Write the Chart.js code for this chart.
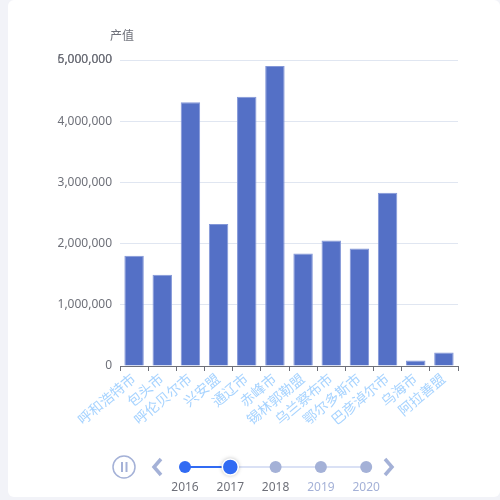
<!DOCTYPE html>
<html>
<head>
<meta charset="utf-8">
<script src="https://cdn.jsdelivr.net/npm/chart.js@4/dist/chart.umd.min.js"></script>
<style>
  html, body { margin: 0; padding: 0; background: #f2f3f8; }
  #card { position: absolute; left: 8px; top: 0; width: 492px; height: 497px; background: #fff; border-radius: 6px; }
  #wrap { position: absolute; left: 0; top: 0; width: 500px; height: 500px; }
</style>
</head>
<body>
<div id="card"></div>
<div id="wrap"><canvas id="chart" width="500" height="500"></canvas></div>
<script>
// cities of Inner Mongolia, output value for the selected year (2017)
const cities = ['呼和浩特市', '包头市', '呼伦贝尔市', '兴安盟', '通辽市', '赤峰市', '锡林郭勒盟', '乌兰察布市', '鄂尔多斯市', '巴彦淖尔市', '乌海市', '阿拉善盟'];
const output = [1800000, 1490000, 4310000, 2320000, 4400000, 4900000, 1840000, 2050000, 1920000, 2830000, 90000, 220000];
const years = ['2016', '2017', '2018', '2019', '2020'];
const currentYear = 1;
// the top line carries two overlapping labels in the original (5,000,000 and 6,000,000)
const yTickValues = [0, 1000000, 2000000, 3000000, 4000000, 5000000, 5000000];
const yTickLabels = ['0', '1,000,000', '2,000,000', '3,000,000', '4,000,000', '5,000,000', '6,000,000'];

const FONT = '"Noto Sans", "Noto Sans CJK SC", sans-serif';
Chart.defaults.font.family = FONT;

// y axis name + timeline control under the chart
const extras = {
  id: 'extras',
  afterDraw(chart) {
    const ctx = chart.ctx;
    const area = chart.chartArea;
    ctx.save();
    ctx.fillStyle = '#6e7079';
    ctx.font = '12px ' + FONT;
    ctx.textAlign = 'center';
    ctx.textBaseline = 'middle';
    ctx.fillText('产值', area.left + 2, area.top - 23);

    const y = 467;
    const grey = '#a4b1d7';
    const blue = '#316bf3';
    // play / pause
    ctx.strokeStyle = grey;
    ctx.lineWidth = 1.5;
    ctx.beginPath(); ctx.arc(124, y, 11, 0, Math.PI * 2); ctx.stroke();
    ctx.lineWidth = 2;
    ctx.beginPath();
    ctx.moveTo(122, y - 5); ctx.lineTo(122, y + 5);
    ctx.moveTo(126.5, y - 5); ctx.lineTo(126.5, y + 5);
    ctx.stroke();
    // prev / next arrows
    ctx.lineWidth = 3.5;
    ctx.lineJoin = 'miter';
    ctx.beginPath(); ctx.moveTo(161, y - 8); ctx.lineTo(154, y); ctx.lineTo(161, y + 8); ctx.stroke();
    ctx.beginPath(); ctx.moveTo(385, y - 8); ctx.lineTo(392, y); ctx.lineTo(385, y + 8); ctx.stroke();

    const x0 = 185, step = 45.3;
    const xEnd = x0 + step * (years.length - 1);
    ctx.lineWidth = 2;
    ctx.strokeStyle = '#dae1f5';
    ctx.beginPath(); ctx.moveTo(x0, y); ctx.lineTo(xEnd, y); ctx.stroke();
    ctx.strokeStyle = blue;
    ctx.beginPath(); ctx.moveTo(x0, y); ctx.lineTo(x0 + step * currentYear, y); ctx.stroke();

    years.forEach((yr, i) => {
      const x = x0 + step * i;
      if (i === currentYear) {
        ctx.save();
        ctx.shadowColor = 'rgba(0,0,0,0.35)';
        ctx.shadowBlur = 4;
        ctx.fillStyle = blue;
        ctx.beginPath(); ctx.arc(x, y, 8, 0, Math.PI * 2); ctx.fill();
        ctx.restore();
        ctx.strokeStyle = '#fff';
        ctx.lineWidth = 1.5;
        ctx.beginPath(); ctx.arc(x, y, 8, 0, Math.PI * 2); ctx.stroke();
      } else {
        ctx.fillStyle = i < currentYear ? blue : grey;
        ctx.beginPath(); ctx.arc(x, y, 6, 0, Math.PI * 2); ctx.fill();
      }
      ctx.fillStyle = i <= currentYear + 1 ? '#6e7079' : grey;
      ctx.font = '12px ' + FONT;
      ctx.fillText(yr, x, y + 21);
    });
    ctx.restore();
  }
};

new Chart(document.getElementById('chart'), {
  type: 'bar',
  data: {
    labels: cities,
    datasets: [{
      label: '产值',
      data: output,
      backgroundColor: '#5470c6',
      borderColor: '#8397d8',
      borderWidth: 1,
      categoryPercentage: 1,
      barPercentage: 0.69
    }]
  },
  options: {
    responsive: false,
    animation: false,
    layout: { padding: { left: 0, right: 42, top: 60, bottom: 0 } },
    plugins: { legend: { display: false }, tooltip: { enabled: false } },
    scales: {
      x: {
        grid: { drawOnChartArea: false, drawTicks: true, tickLength: 5, color: '#6e7079', offset: true },
        border: { display: true, color: '#6e7079', width: 1 },
        ticks: {
          color: 'rgba(150, 203, 255, 0.85)',
          font: { size: 14 },
          maxRotation: 40,
          minRotation: 40,
          autoSkip: false,
          padding: 0
        },
        afterFit(scale) { scale.height = 134; }
      },
      y: {
        min: 0,
        max: 5000000,
        afterBuildTicks(scale) { scale.ticks = yTickValues.map(v => ({ value: v })); },
        grid: { color: '#e0e6f1', drawTicks: false },
        border: { display: false },
        ticks: {
          color: '#6e7079',
          font: { size: 12 },
          padding: 8,
          callback: (v, i) => yTickLabels[i]
        },
        afterFit(scale) { scale.width = 120; }
      }
    }
  },
  plugins: [extras]
});
</script>
</body>
</html>
